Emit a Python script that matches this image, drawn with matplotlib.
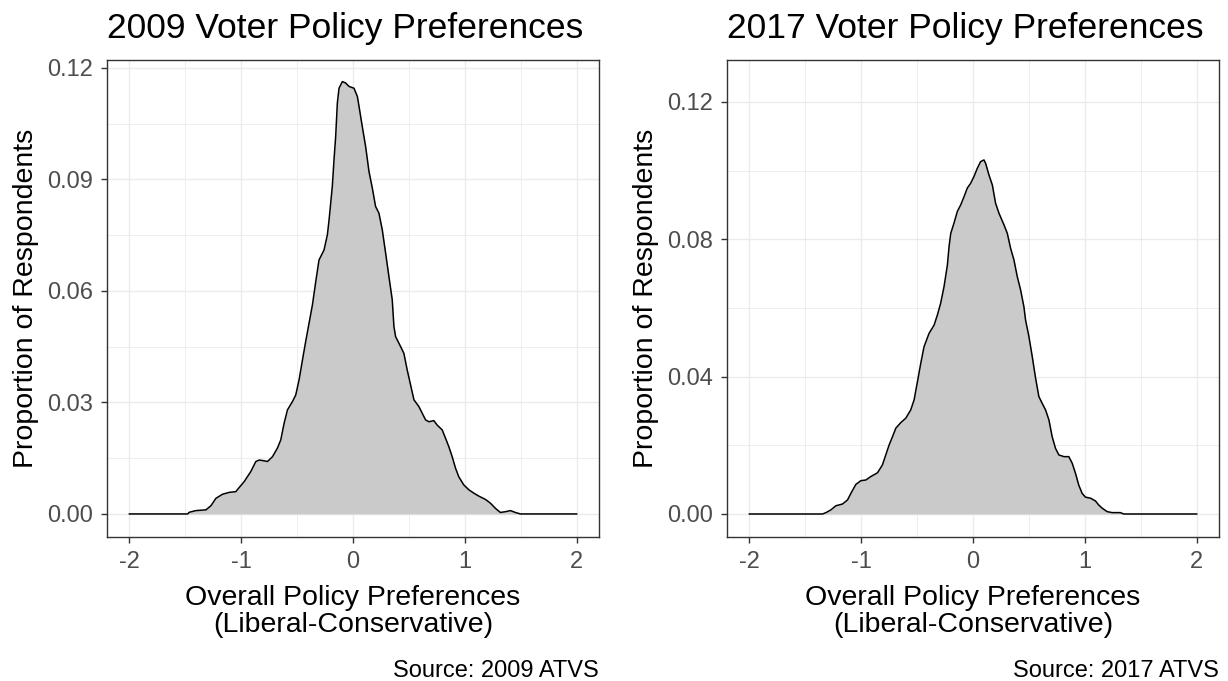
import numpy as np
import matplotlib.pyplot as plt
from matplotlib.ticker import MultipleLocator

plt.rcParams['font.family'] = ['Liberation Sans', 'DejaVu Sans']

# density curve, 2009 survey
x_2009 = [-2.0, -1.479, -1.464, -1.405, -1.315, -1.271, -1.226, -1.167, -1.107, -1.048,
          -1.018, -0.973, -0.914, -0.869, -0.839, -0.795, -0.765, -0.720, -0.676, -0.646,
          -0.616, -0.586, -0.542, -0.512, -0.482, -0.452, -0.423, -0.393, -0.363, -0.333,
          -0.304, -0.259, -0.229, -0.214, -0.185, -0.170, -0.155, -0.140, -0.125, -0.095,
          -0.065, -0.036, 0.009, 0.039, 0.054, 0.083, 0.113, 0.143, 0.173, 0.202,
          0.232, 0.262, 0.292, 0.321, 0.351, 0.366, 0.381, 0.426, 0.455, 0.485,
          0.515, 0.545, 0.589, 0.619, 0.649, 0.679, 0.723, 0.753, 0.798, 0.827,
          0.857, 0.887, 0.917, 0.946, 0.991, 1.036, 1.080, 1.125, 1.185, 1.229,
          1.274, 1.318, 1.363, 1.408, 1.452, 1.497, 2.0]
y_2009 = [0.0, 0.0, 0.00045, 0.0009, 0.0011, 0.0022, 0.0042, 0.0053, 0.0058, 0.0060,
          0.0071, 0.0087, 0.0114, 0.0141, 0.0145, 0.0143, 0.0141, 0.0154, 0.0177, 0.0199,
          0.0244, 0.0280, 0.0302, 0.0320, 0.0361, 0.0414, 0.0464, 0.0513, 0.0562, 0.0625,
          0.0683, 0.0710, 0.0751, 0.0791, 0.0881, 0.0952, 0.1015, 0.1105, 0.1145, 0.1163,
          0.1159, 0.1150, 0.1145, 0.1123, 0.1096, 0.1042, 0.0988, 0.0921, 0.0876, 0.0827,
          0.0809, 0.0764, 0.0701, 0.0639, 0.0576, 0.0504, 0.0477, 0.0450, 0.0432, 0.0387,
          0.0347, 0.0307, 0.0289, 0.0271, 0.0253, 0.0248, 0.0251, 0.0239, 0.0226, 0.0204,
          0.0181, 0.0154, 0.0123, 0.0100, 0.0078, 0.0065, 0.0056, 0.0048, 0.0039, 0.0029,
          0.0015, 0.0004, 0.0006, 0.0009, 0.0004, 0.0, 0.0]

# density curve, 2017 survey
x_2017 = [-2.0, -1.345, -1.315, -1.271, -1.226, -1.167, -1.122, -1.092, -1.048, -1.003,
          -0.958, -0.914, -0.854, -0.810, -0.780, -0.750, -0.720, -0.690, -0.646, -0.601,
          -0.557, -0.527, -0.497, -0.467, -0.438, -0.393, -0.348, -0.318, -0.289, -0.259,
          -0.229, -0.214, -0.199, -0.170, -0.140, -0.110, -0.080, -0.051, -0.021, 0.009,
          0.039, 0.068, 0.098, 0.113, 0.143, 0.173, 0.202, 0.232, 0.277, 0.307,
          0.336, 0.366, 0.396, 0.426, 0.455, 0.470, 0.500, 0.530, 0.560, 0.589,
          0.619, 0.649, 0.679, 0.708, 0.738, 0.768, 0.813, 0.857, 0.887, 0.917,
          0.946, 0.976, 1.006, 1.051, 1.095, 1.125, 1.155, 1.199, 1.244, 1.318,
          1.348, 2.0]
y_2017 = [0.0, 0.0, 0.0004, 0.0012, 0.0024, 0.0029, 0.0041, 0.0060, 0.0086, 0.0097,
          0.0099, 0.0109, 0.0120, 0.0143, 0.0172, 0.0201, 0.0225, 0.0250, 0.0266, 0.0279,
          0.0303, 0.0332, 0.0385, 0.0439, 0.0487, 0.0526, 0.0550, 0.0580, 0.0614, 0.0662,
          0.0725, 0.0779, 0.0817, 0.0847, 0.0881, 0.0900, 0.0924, 0.0949, 0.0963, 0.0983,
          0.1007, 0.1026, 0.1031, 0.1021, 0.0987, 0.0958, 0.0905, 0.0876, 0.0842, 0.0817,
          0.0774, 0.0740, 0.0691, 0.0652, 0.0604, 0.0565, 0.0517, 0.0458, 0.0395, 0.0342,
          0.0322, 0.0303, 0.0274, 0.0225, 0.0191, 0.0172, 0.0167, 0.0167, 0.0148, 0.0118,
          0.0084, 0.0060, 0.0049, 0.0046, 0.0038, 0.0026, 0.0017, 0.0007, 0.0004, 0.0004,
          0.0, 0.0]

titles = ['2009 Voter Policy Preferences', '2017 Voter Policy Preferences']
captions = ['Source: 2009 ATVS', 'Source: 2017 ATVS']
y_steps = [0.03, 0.04]
y_limits = [(-0.0062, 0.1221), (-0.0067, 0.1322)]

fig = plt.figure(figsize=(12.28, 6.81), dpi=100)
lefts = [107 / 1228, 727 / 1228]
W = 492 / 1228
B = (681 - 537) / 681
H = 477 / 681

data = [(x_2009, y_2009), (x_2017, y_2017)]
for i in range(2):
    ax = fig.add_axes([lefts[i], B, W, H])
    xs, ys = data[i]
    ax.fill_between(xs, ys, 0, color='#CACACA', lw=0, zorder=2)
    ax.plot(xs, ys, color='black', lw=1.1, zorder=3)

    ax.set_xlim(-2.2, 2.2)
    ax.set_ylim(*y_limits[i])
    ax.xaxis.set_major_locator(MultipleLocator(1))
    ax.xaxis.set_minor_locator(MultipleLocator(0.5))
    ax.yaxis.set_major_locator(MultipleLocator(y_steps[i]))
    ax.yaxis.set_minor_locator(MultipleLocator(y_steps[i] / 2))
    ax.xaxis.set_major_formatter(plt.FuncFormatter(lambda v, p: '%d' % round(v)))
    ax.yaxis.set_major_formatter(plt.FuncFormatter(lambda v, p: '%.2f' % v))

    ax.grid(True, which='major', color='#EBEBEB', lw=1.0, zorder=0)
    ax.grid(True, which='minor', color='#EBEBEB', lw=0.6, zorder=0)
    ax.set_axisbelow(True)
    for s in ax.spines.values():
        s.set_color('#333333')
        s.set_linewidth(1.0)
    ax.tick_params(which='major', length=4, width=1.0, color='#333333',
                   labelsize=17, labelcolor='#4D4D4D')
    ax.tick_params(axis='y', pad=6)
    ax.tick_params(axis='x', pad=6)
    ax.tick_params(which='minor', length=0)

    ax.set_xlabel('Overall Policy Preferences\n(Liberal-Conservative)', fontsize=20.5,
                  color='black', labelpad=9, linespacing=1.05)
    ax.set_ylabel('Proportion of Respondents', fontsize=20.5, color='black', labelpad=6)
    ax.set_title(titles[i], fontsize=25.5, loc='left', pad=16)
    fig.text(lefts[i] + W, 1 - 671 / 681, captions[i], ha='right', va='center',
             fontsize=17, color='black')

fig.savefig('out.png', dpi=100)
